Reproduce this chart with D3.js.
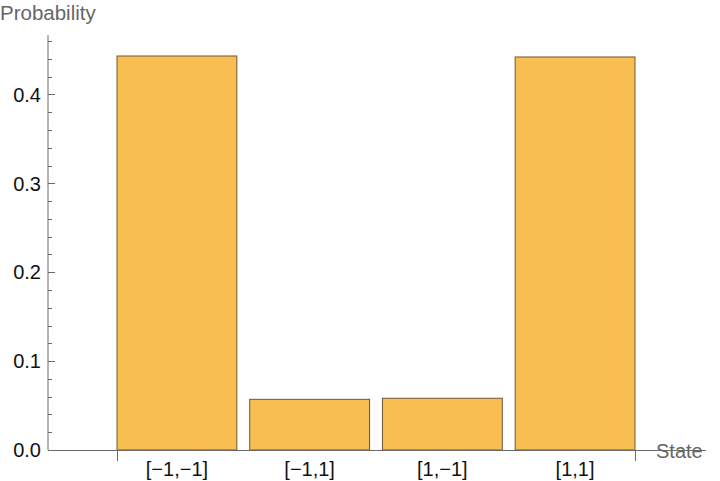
<!DOCTYPE html>
<html>
<head>
<meta charset="utf-8">
<script src="https://cdn.jsdelivr.net/npm/d3@7"></script>
<style>
  body { margin: 0; background: #fff; }
  text { font-family: "Liberation Sans", Arial, sans-serif; }
</style>
</head>
<body>
<svg id="chart" width="720" height="481"></svg>
<script>
// data
const states = ["[\u22121,\u22121]", "[\u22121,1]", "[1,\u22121]", "[1,1]"];
const probs = [0.4432, 0.0570, 0.0582, 0.4421];
const yTicks = [0, 0.1, 0.2, 0.3, 0.4];

const svg = d3.select('#chart');
const x0 = 48, xEnd = 706, yBase = 450;

let y = d3.scaleLinear()
  .domain([0, 0.4])
  .range([yBase, 94.4]);

let x = d3.scaleBand()
  .domain(states)
  .range([117, 635])
  .paddingInner(0.097)
  .paddingOuter(0);

// bars
svg.append('g').selectAll('rect')
  .data(probs)
  .enter().append('rect')
  .attr('x', (d, i) => x(states[i]))
  .attr('width', x.bandwidth())
  .attr('y', d => y(d))
  .attr('height', d => yBase - y(d))
  .attr('fill', '#f9be52')
  .attr('stroke', '#6e5634')
  .attr('stroke-width', 1);

// y axis
const axisColor = '#6a6a6a';
let gy = svg.append('g').attr('transform', `translate(${x0},0)`);
gy.append('line')
  .attr('x1', 0).attr('x2', 0)
  .attr('y1', yBase).attr('y2', 35)
  .attr('stroke', axisColor);
let minor = d3.range(0, 0.47, 0.02);
gy.selectAll('.minor').data(minor).enter().append('line')
  .attr('x1', 0).attr('x2', d => Math.abs(d * 10 - Math.round(d * 10)) < 1e-6 ? 7 : 4)
  .attr('y1', d => Math.round(y(d)) + 0.5).attr('y2', d => Math.round(y(d)) + 0.5)
  .attr('stroke', axisColor);
gy.selectAll('.lbl').data(yTicks).enter().append('text')
  .attr('x', -7)
  .attr('y', d => y(d))
  .attr('dy', '0.36em')
  .attr('text-anchor', 'end')
  .attr('font-size', 20)
  .attr('fill', '#111')
  .text(d3.format('.1f'));

// x axis
svg.append('line')
  .attr('x1', x0).attr('x2', xEnd)
  .attr('y1', yBase + 0.5).attr('y2', yBase + 0.5)
  .attr('stroke', axisColor);
svg.selectAll('.xt').data([117, 635]).enter().append('line')
  .attr('x1', d => d + 0.5).attr('x2', d => d + 0.5)
  .attr('y1', yBase).attr('y2', yBase + 11)
  .attr('stroke', axisColor);
svg.selectAll('.xl').data(states).enter().append('text')
  .attr('x', d => x(d) + x.bandwidth() / 2)
  .attr('y', 476)
  .attr('text-anchor', 'middle')
  .attr('font-size', 20)
  .attr('fill', '#111')
  .text(d => d);

// axis titles
svg.append('text')
  .attr('x', 0).attr('y', 20)
  .attr('font-size', 20.5)
  .attr('fill', '#666')
  .text('Probability');
svg.append('text')
  .attr('x', 656).attr('y', 458)
  .attr('font-size', 20)
  .attr('fill', '#666')
  .text('State');
</script>
</body>
</html>
